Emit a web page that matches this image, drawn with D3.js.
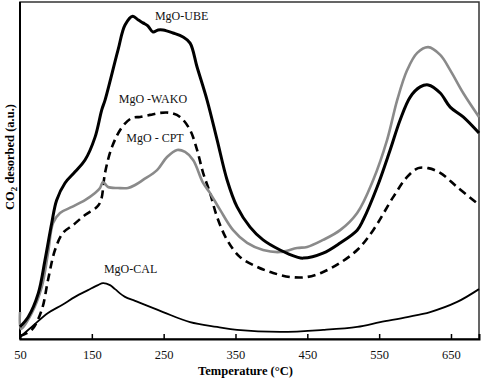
<!DOCTYPE html>
<html>
<head>
<meta charset="utf-8">
<style>
  body { margin: 0; background: #fff; }
  svg { display: block; font-family: "Liberation Serif", "Times New Roman", serif; }
</style>
</head>
<body>
<script src="https://cdn.jsdelivr.net/npm/d3@7/dist/d3.min.js"></script>
<svg></svg>
<script>
// [temperature (°C), CO2 desorbed (a.u.)]
const ubeData = [
  [50, 3.6], [61.6, 6.6], [75.5, 13.6], [84.8, 23.4], [94.2, 34.4], [101, 41.2],
  [112.7, 46.3], [126.6, 49.6], [140.5, 53.1], [154.5, 59.9], [163.8, 68.0],
  [168.4, 70.9], [186.5, 85.8], [196.2, 93.2], [207, 95.8], [214.3, 94.7],
  [221.3, 93.8], [228, 92.9], [235.2, 91.1], [242.2, 91.7], [249.2, 91.7],
  [263.1, 90.8], [277, 89.6], [286.8, 87.8], [296.5, 80.7], [310.4, 70.9],
  [324.4, 59.1], [338.3, 47.2], [352.2, 39.2], [370.3, 33.2], [388.4, 29.4],
  [412.1, 26.4], [435.8, 24.3], [444.2, 24.0], [472, 25.5], [495.7, 28.5],
  [519.4, 32.3], [527.7, 35.3], [547.2, 45.1], [565.3, 56.1], [579.2, 65.0],
  [593.2, 71.8], [607.1, 74.8], [618.3, 75.4], [635, 73.0], [648.9, 68.8],
  [667, 65.9], [689, 61.1]
];
const wakoData = [
  [50, 0.9], [66.3, 2.7], [80.2, 8.6], [89, 17.5], [98.7, 26.4], [109.9, 31.5],
  [123.8, 33.8], [140.5, 36.8], [157.2, 39.2], [162.8, 41.2], [168.4, 49.3],
  [178.1, 57.0], [192.1, 62.9], [206, 65.6], [217.1, 65.9], [231, 66.5],
  [245, 67.1], [258.9, 67.1], [272.8, 65.9], [286.8, 62.0], [296.5, 56.1],
  [304.9, 49.3], [314.6, 43.3], [324.4, 36.2], [338.3, 29.4], [356.4, 24.3],
  [380.1, 21.4], [402.4, 19.6], [426, 18.4], [449.7, 18.4], [472, 19.9],
  [495.7, 22.6], [519.4, 26.4], [541.7, 32.3], [569.5, 42.1], [589, 48.1],
  [604.3, 50.7], [618.3, 50.7], [635, 49.3], [658.6, 45.1], [689, 39.8]
];
const cptData = [
  [50, 8.0], [51.4, 3.0], [66.3, 7.7], [80.2, 15.4], [89, 25.5], [96, 34.4],
  [105.7, 37.4], [122.4, 39.2], [140.5, 41.2], [154.5, 43.3], [161.4, 44.8],
  [165.6, 46.6], [172.6, 45.1], [186.5, 44.8], [200.4, 44.8], [210.2, 45.7],
  [221.3, 47.2], [240.8, 50.1], [254.7, 54.0], [268.7, 56.1], [279.8, 55.5],
  [291, 53.1], [304.9, 46.3], [314.6, 43.3], [328.6, 38.3], [346.7, 32.3],
  [366.2, 28.5], [388.4, 26.4], [412.1, 25.8], [435.8, 27.0], [449.7, 27.3],
  [472, 29.4], [495.7, 32.3], [519.4, 37.4], [541.7, 47.2], [561.1, 59.1],
  [575.1, 70.9], [589, 79.8], [603, 84.9], [618.3, 86.6], [635, 84.3],
  [648.9, 79.8], [667, 73.0], [689, 65.9]
];
const calData = [
  [50, 0.6], [66.3, 3.6], [89, 7.7], [108.5, 10.1], [126.6, 12.5], [144.7, 14.5],
  [158.6, 16.0], [165.6, 16.6], [175.3, 16.0], [182.3, 14.8], [196.2, 12.5],
  [210.2, 11.3], [249.2, 8.0], [286.8, 5.0], [324.4, 3.6], [352.2, 2.7],
  [412.1, 2.1], [472, 2.7], [519.4, 3.6], [551.4, 5.0], [589, 6.5], [621, 8.0],
  [658.6, 11.0], [689, 14.8]
];
const xTicks = [50, 150, 250, 350, 450, 550, 650];
// label text with its anchor point in data units
const curveLabels = [
  { text: 'MgO-UBE', t: 275, v: 94.7 },
  { text: 'MgO -WAKO', t: 235, v: 70.0 },
  { text: 'MgO - CPT', t: 238, v: 58.5 },
  { text: 'MgO-CAL', t: 204, v: 19.6 }
];

const width = 484;
const height = 382;
const margin = { top: 2, right: 5, bottom: 43, left: 20 };

const init = () => {
  const svg = d3.select('svg').attr('width', width).attr('height', height);
  const x = d3.scaleLinear().domain([50, 689]).range([margin.left, width - margin.right]);
  const y = d3.scaleLinear().domain([0, 100]).range([height - margin.bottom, height - margin.bottom - 337]);

  drawFrame(svg, x, y);
  drawSeries(svg, x, y);
  drawLabels(svg, x, y);
};

const drawFrame = (svg, x, y) => {
  const [x0, x1] = x.range();
  const [y0, y1] = y.range();
  // top / right border
  svg.append('rect')
    .attr('x', x0).attr('y', y1)
    .attr('width', x1 - x0).attr('height', y0 - y1)
    .attr('fill', 'none')
    .attr('stroke', '#333')
    .attr('stroke-width', 1.5);

  const xAxis = svg.append('g')
    .attr('transform', `translate(0,${y0})`)
    .call(d3.axisBottom(x).tickValues(xTicks).tickSize(-5).tickPadding(11).tickFormat(d3.format('d')));
  xAxis.select('.domain').attr('stroke', '#000').attr('stroke-width', 2);
  xAxis.selectAll('.tick line').attr('stroke', '#000').attr('stroke-width', 1.5);
  xAxis.selectAll('.tick text')
    .attr('font-family', '"Liberation Serif", serif')
    .attr('font-size', 12.5)
    .attr('fill', '#111');

  // left axis line only
  svg.append('line')
    .attr('x1', x0).attr('x2', x0)
    .attr('y1', y0).attr('y2', y1)
    .attr('stroke', '#000')
    .attr('stroke-width', 2);

  svg.append('text')
    .attr('x', (x0 + x1) / 2 - 4)
    .attr('y', 375)
    .attr('text-anchor', 'middle')
    .attr('font-weight', 'bold')
    .attr('font-size', 12.5)
    .text('Temperature  (°C)');

  const yTitle = svg.append('text')
    .attr('transform', 'translate(14,157) rotate(-90)')
    .attr('text-anchor', 'middle')
    .attr('font-weight', 'bold')
    .attr('font-size', 12.5);
  yTitle.append('tspan').text('CO');
  yTitle.append('tspan').attr('font-size', 9).attr('dy', 3).text('2');
  yTitle.append('tspan').attr('dy', -3).text(' desorbed (a.u.)');
};

const drawSeries = (svg, x, y) => {
  const line = d3.line()
    .x(d => x(d[0]))
    .y(d => y(d[1]))
    .curve(d3.curveCatmullRom.alpha(0.5));

  const series = [
    { data: calData, color: '#000', w: 1.8, dash: null },
    { data: wakoData, color: '#000', w: 2.6, dash: '8,5' },
    { data: cptData, color: '#8a8a8a', w: 2.6, dash: null },
    { data: ubeData, color: '#000', w: 3, dash: null }
  ];

  svg.append('g')
    .selectAll('path')
    .data(series)
    .join('path')
      .attr('d', d => line(d.data))
      .attr('fill', 'none')
      .attr('stroke', d => d.color)
      .attr('stroke-width', d => d.w)
      .attr('stroke-dasharray', d => d.dash)
      .attr('stroke-linejoin', 'round');
};

const drawLabels = (svg, x, y) => {
  svg.append('g')
    .selectAll('text')
    .data(curveLabels)
    .join('text')
      .attr('x', d => x(d.t))
      .attr('y', d => y(d.v))
      .attr('text-anchor', 'middle')
      .attr('font-size', 12)
      .attr('fill', '#111')
      .text(d => d.text);
};

init();
</script>
</body>
</html>
